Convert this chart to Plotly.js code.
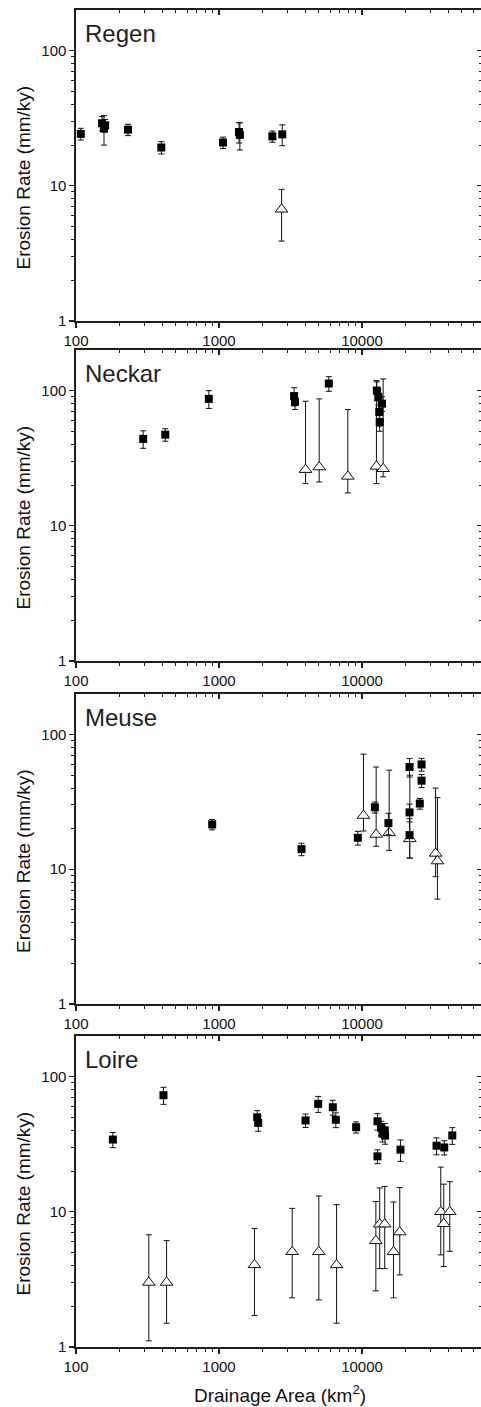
<!DOCTYPE html>
<html>
<head>
<meta charset="utf-8">
<script src="https://cdn.plot.ly/plotly-3.0.1.min.js"></script>
<style>html,body{margin:0;padding:0;background:#fff;}#chart{width:481px;height:1407px;}</style>
</head>
<body>
<div id="chart"></div>
<script>
// ---------- DATA ----------
const panelNames = ['Regen', 'Neckar', 'Meuse', 'Loire'];

// Regen
const regenSqX = [108, 152, 157, 160, 231, 395, 1067, 1380, 1400, 2360, 2770];
const regenSqY = [24.2, 29, 26.5, 28, 26, 19.2, 20.9, 25, 23.8, 23.2, 24];
const regenSqE = [2.4, 3.5, 6.5, 3, 2.5, 2, 2, 4.3, 5.4, 2.2, 4.2];
const regenTrX = [2740];
const regenTrY = [6.7];
const regenTrP = [2.7];
const regenTrM = [2.8];

// Neckar
const neckarSqX = [295, 421, 849, 3350, 3400, 5860, 12700, 13000, 13800, 13200, 13300];
const neckarSqY = [43.9, 47.2, 86.8, 91, 82.5, 112.7, 100, 90, 80, 69.5, 58.6];
const neckarSqE = [6.5, 5, 13, 14, 10, 14, 16, 12, 10, 15, 8.6];
const neckarTrX = [4030, 5020, 7960, 12620, 14060];
const neckarTrY = [26, 27.2, 23.2, 27.5, 26.4];
const neckarTrP = [57.4, 59.6, 49.1, 91, 95.5];
const neckarTrM = [5.5, 6.1, 5.7, 7, 3.4];

// Meuse
const meuseSqX = [896, 3776, 9350, 12300, 15300, 21500, 21500, 21500, 26100, 26100, 25360];
const meuseSqY = [21.5, 14.1, 17.1, 28.8, 22, 57.3, 26.4, 17.9, 59.9, 45.4, 30.7];
const meuseSqE = [1.9, 1.5, 2, 2.7, 4, 9, 4, 5.8, 6.5, 5, 2.8];
const meuseTrX = [10240, 12560, 15490, 21600, 32700, 33700];
const meuseTrY = [25, 18.1, 18.6, 16.8, 13.1, 11.5];
const meuseTrP = [46.4, 39.2, 35.7, 33, 26.9, 22.5];
const meuseTrM = [5.8, 3.3, 4.8, 4.7, 4.3, 5.5];

// Loire
const loireSqX = [181, 409, 1850, 1880, 4030, 4940, 6250, 6560, 9100, 12830, 13620, 14420, 13900, 14500, 12830, 18580, 33200, 37600, 42800];
const loireSqY = [34.2, 72.8, 50, 45.4, 47.4, 62.8, 59.3, 47.9, 42.2, 46.7, 41.7, 40, 37.8, 36.6, 25.7, 28.8, 30.8, 29.9, 36.7];
const loireSqE = [4.4, 10.5, 6, 6, 5.4, 8.5, 7.5, 6, 4, 6.5, 5, 5, 5, 5, 3, 5.2, 4.4, 3.6, 5.2];
const loireTrX = [323, 430, 1770, 3250, 4990, 6640, 12500, 13300, 14420, 16600, 18370, 35560, 37300, 41100];
const loireTrY = [3.0, 3.0, 4.05, 5.06, 5.06, 4.05, 6.1, 8.1, 8.1, 5.06, 7.08, 10, 8.15, 10];
const loireTrP = [3.76, 3.12, 3.47, 5.54, 8.04, 7.25, 5.8, 6.9, 7.3, 6.74, 8.02, 11.4, 7.85, 6.7];
const loireTrM = [1.89, 1.5, 2.34, 2.75, 2.83, 2.55, 3.5, 4.3, 4.3, 2.75, 3.67, 5.2, 4.21, 4.9];

const yTitle = 'Erosion Rate (mm/ky)';
const xTitle = 'Drainage Area (km<sup>2</sup>)';

// ---------- LAYOUT / BUILD ----------
const W = 481, H = 1407, ML = 76;
const PW = W - ML;
const pxPerDecade = 143;
const xRange = [2, 2 + PW / pxPerDecade];
const yRange = [0, 2.3];
const panelTops = [10, 350, 694, 1036];
const panelBots = [321, 661, 1004, 1347];
const px2paperX = p => (p - ML) / PW;
const px2paperY = p => 1 - p / H;

const sqSets = [
  [regenSqX, regenSqY, regenSqE],
  [neckarSqX, neckarSqY, neckarSqE],
  [meuseSqX, meuseSqY, meuseSqE],
  [loireSqX, loireSqY, loireSqE]
];
const trSets = [
  [regenTrX, regenTrY, regenTrP, regenTrM],
  [neckarTrX, neckarTrY, neckarTrP, neckarTrM],
  [meuseTrX, meuseTrY, meuseTrP, meuseTrM],
  [loireTrX, loireTrY, loireTrP, loireTrM]
];

const FONT = 'Liberation Sans, Arial, sans-serif';
const AX = '#1e1e1e';
const traces = [];
const layout = {
  width: W, height: H,
  margin: {l: ML, r: 0, t: 0, b: 0, pad: 0},
  paper_bgcolor: '#fff', plot_bgcolor: 'rgba(0,0,0,0)',
  showlegend: false,
  font: {family: FONT, color: '#111'},
  annotations: []
};

for (let i = 0; i < 4; i++) {
  const n = i + 1;
  const xs = n === 1 ? 'x' : 'x' + n;
  const ys = n === 1 ? 'y' : 'y' + n;
  const dom = [1 - panelBots[i] / H, 1 - panelTops[i] / H];

  const [sx, sy, se] = sqSets[i];
  const [tx, ty, tp, tm] = trSets[i];
  traces.push({
    type: 'scatter', mode: 'markers', x: tx, y: ty, xaxis: xs, yaxis: ys,
    marker: {symbol: 'triangle-up', size: 11, color: '#fff', line: {color: '#111', width: 1}},
    error_y: {type: 'data', symmetric: false, array: tp, arrayminus: tm, color: '#111', thickness: 1, width: 3},
    hoverinfo: 'skip'
  });
  traces.push({
    type: 'scatter', mode: 'markers', x: sx, y: sy, xaxis: xs, yaxis: ys,
    marker: {symbol: 'square', size: 8, color: '#000', line: {width: 0}},
    error_y: {type: 'data', array: se, color: '#111', thickness: 1, width: 3},
    hoverinfo: 'skip'
  });

  const common = {
    type: 'log', showgrid: false, zeroline: false,
    showline: true, linecolor: AX, linewidth: 1.6,
    tickcolor: AX, tickwidth: 1.2, ticklen: 5,
    dtick: 1, tickformat: 'd',
    tickfont: {family: FONT, size: 15, color: '#111'},
    autorange: false
  };
  layout['xaxis' + (n === 1 ? '' : n)] = Object.assign({}, common, {
    range: xRange, domain: [0, 1], anchor: ys, ticks: 'outside',
    minor: {ticks: 'outside', ticklen: 3, dtick: 'D1', tickcolor: AX, tickwidth: 1, showgrid: false}
  });
  layout['yaxis' + (n === 1 ? '' : n)] = Object.assign({}, common, {
    range: yRange, domain: dom, anchor: xs, ticks: 'outside',
    minor: {ticks: 'outside', ticklen: 3, dtick: 'D1', tickcolor: AX, tickwidth: 1, showgrid: false}
  });
  // mirror axes: top and right with inward ticks
  const tn = n + 4;
  layout['xaxis' + tn] = Object.assign({}, common, {
    range: xRange, domain: [0, 1], overlaying: xs, anchor: 'y' + tn, side: 'top',
    ticks: 'inside', showticklabels: false,
    minor: {ticks: 'inside', ticklen: 3, dtick: 'D1', tickcolor: AX, tickwidth: 1, showgrid: false}
  });
  layout['yaxis' + tn] = Object.assign({}, common, {
    range: yRange, domain: dom, overlaying: ys, anchor: 'x' + tn, side: 'right',
    showline: false, ticks: 'inside', showticklabels: false, ticklen: 4,
    minor: {ticks: 'inside', ticklen: 2, dtick: 'D1', tickcolor: AX, tickwidth: 1, showgrid: false}
  });
  traces.push({type: 'scatter', mode: 'markers', x: [null], y: [null], xaxis: 'x' + tn, yaxis: 'y' + tn, hoverinfo: 'skip'});

  layout.annotations.push({
    xref: 'paper', yref: 'paper', x: px2paperX(83), y: px2paperY(panelTops[i] + 23),
    xanchor: 'left', yanchor: 'middle', showarrow: false,
    text: panelNames[i], font: {family: FONT, size: 24, color: '#222'}
  });
  layout.annotations.push({
    xref: 'paper', yref: 'paper', x: px2paperX(23), y: px2paperY((panelTops[i] + panelBots[i]) / 2 + 12),
    xanchor: 'center', yanchor: 'middle', showarrow: false, textangle: -90,
    text: yTitle, font: {family: FONT, size: 19, color: '#111'}
  });
}
layout.annotations.push({
  xref: 'paper', yref: 'paper', x: px2paperX(280), y: px2paperY(1394),
  xanchor: 'center', yanchor: 'middle', showarrow: false,
  text: xTitle, font: {family: FONT, size: 19, color: '#111'}
});

Plotly.newPlot('chart', traces, layout, {staticPlot: true, displayModeBar: false});
</script>
</body>
</html>
